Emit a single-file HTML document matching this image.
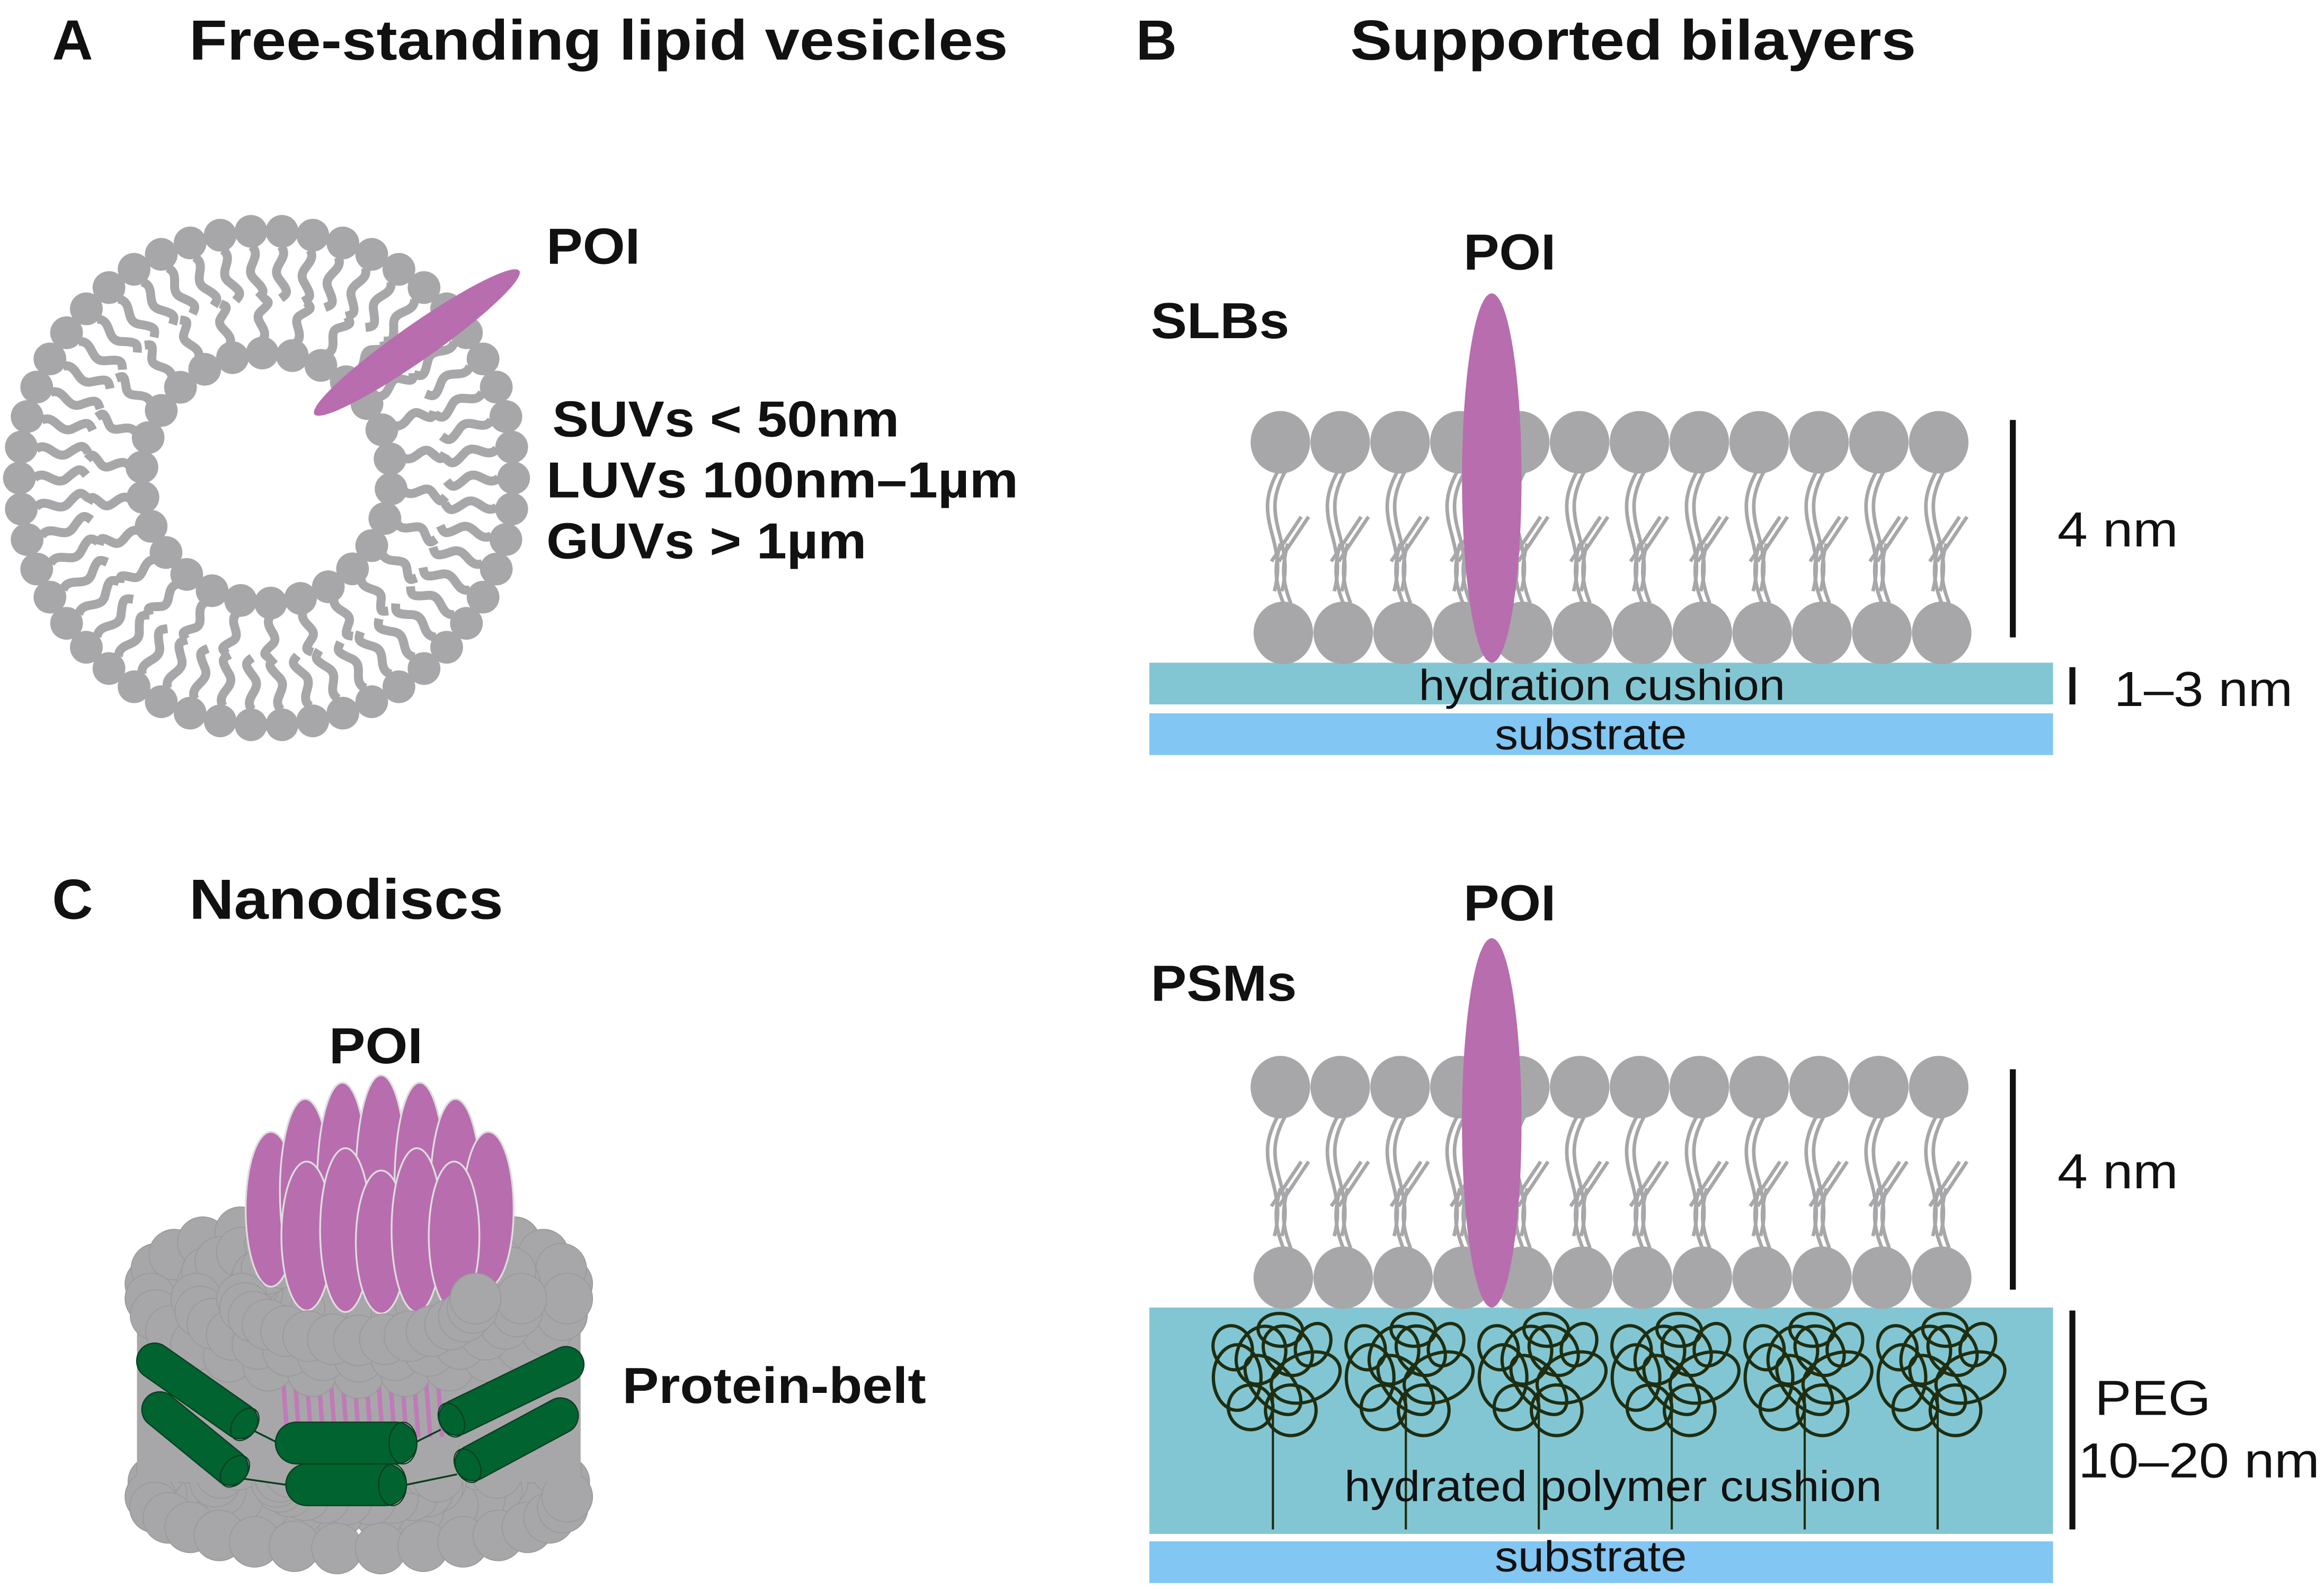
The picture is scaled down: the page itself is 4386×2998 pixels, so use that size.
<!DOCTYPE html>
<html><head><meta charset="utf-8">
<style>
html,body{margin:0;padding:0;background:#fff;}
svg{display:block;}
.b{font-family:"Liberation Sans",Arial,sans-serif;font-weight:bold;fill:#111;}
.n{font-family:"Liberation Sans",Arial,sans-serif;fill:#111;}
</style></head>
<body>
<svg id="s" xmlns="http://www.w3.org/2000/svg" width="4386" height="2998" viewBox="0 0 1561 1067">
<rect width="1561" height="1067" fill="#fff"/>
<g id="ves"></g>
<ellipse cx="280" cy="230" rx="84" ry="12" transform="rotate(-35 280 230)" fill="#b86daf"/>

<rect x="772" y="445" width="607" height="28" fill="#83c6d3"/>
<rect x="772" y="479" width="607" height="28" fill="#82c6f3"/>
<g id="slb"></g>
<ellipse cx="1002" cy="321" rx="20" ry="124" fill="#b86daf"/>
<rect x="1350" y="282" width="4" height="146" fill="#111"/>
<rect x="1390" y="448" width="4" height="25" fill="#111"/>

<rect x="772" y="878" width="607" height="152" fill="#83c6d3"/>
<rect x="772" y="1035" width="607" height="28" fill="#82c6f3"/>
<g id="psm"></g>
<ellipse cx="1002" cy="754" rx="20" ry="124" fill="#b86daf"/>
<g id="peg" fill="none" stroke="#1f2e10" stroke-width="2.2"></g>
<rect x="1350" y="718" width="4" height="148" fill="#111"/>
<rect x="1390" y="880" width="4" height="147" fill="#111"/>

<g id="nano"></g>

<text class="b" x="35" y="40" font-size="38">A</text>
<text class="b" x="127" y="40" font-size="38" textLength="550" lengthAdjust="spacingAndGlyphs">Free-standing lipid vesicles</text>
<text class="b" x="763" y="40" font-size="38">B</text>
<text class="b" x="907" y="40" font-size="38" textLength="380" lengthAdjust="spacingAndGlyphs">Supported bilayers</text>
<text class="b" x="35" y="617" font-size="38">C</text>
<text class="b" x="127" y="617" font-size="38" textLength="211" lengthAdjust="spacingAndGlyphs">Nanodiscs</text>
<text class="b" x="367" y="177" font-size="34" textLength="63" lengthAdjust="spacingAndGlyphs">POI</text>
<text class="b" x="371" y="293" font-size="34" textLength="233" lengthAdjust="spacingAndGlyphs">SUVs &lt; 50nm</text>
<text class="b" x="367" y="334" font-size="34" textLength="317" lengthAdjust="spacingAndGlyphs">LUVs 100nm–1µm</text>
<text class="b" x="367" y="375" font-size="34" textLength="215" lengthAdjust="spacingAndGlyphs">GUVs &gt; 1µm</text>
<text class="b" x="983" y="181" font-size="34" textLength="62" lengthAdjust="spacingAndGlyphs">POI</text>
<text class="b" x="773" y="227" font-size="34" textLength="93" lengthAdjust="spacingAndGlyphs">SLBs</text>
<text class="b" x="983" y="618" font-size="34" textLength="62" lengthAdjust="spacingAndGlyphs">POI</text>
<text class="b" x="773" y="672" font-size="34" textLength="98" lengthAdjust="spacingAndGlyphs">PSMs</text>
<text class="b" x="221" y="714" font-size="34" textLength="63" lengthAdjust="spacingAndGlyphs">POI</text>
<text class="b" x="418" y="942" font-size="34" textLength="204" lengthAdjust="spacingAndGlyphs">Protein-belt</text>
<text class="n" x="1382" y="367" font-size="33" textLength="81" lengthAdjust="spacingAndGlyphs">4 nm</text>
<text class="n" x="1420" y="474" font-size="33" textLength="120" lengthAdjust="spacingAndGlyphs">1–3 nm</text>
<text class="n" x="1382" y="798" font-size="33" textLength="81" lengthAdjust="spacingAndGlyphs">4 nm</text>
<text class="n" x="1407" y="950" font-size="33" textLength="78" lengthAdjust="spacingAndGlyphs">PEG</text>
<text class="n" x="1396" y="992" font-size="33" textLength="162" lengthAdjust="spacingAndGlyphs">10–20 nm</text>
<text class="n" x="953" y="470" font-size="29" textLength="246" lengthAdjust="spacingAndGlyphs">hydration cushion</text>
<text class="n" x="1004" y="503" font-size="29" textLength="129" lengthAdjust="spacingAndGlyphs">substrate</text>
<text class="n" x="903" y="1008" font-size="29" textLength="361" lengthAdjust="spacingAndGlyphs">hydrated polymer cushion</text>
<text class="n" x="1004" y="1055" font-size="29" textLength="129" lengthAdjust="spacingAndGlyphs">substrate</text>
</svg>
<script>
(function(){
var G='#a7a7a9';
function el(parent,tag,attrs){var e=document.createElementNS('http://www.w3.org/2000/svg',tag);for(var k in attrs)e.setAttribute(k,attrs[k]);parent.appendChild(e);return e;}
var v=document.getElementById('ves');
var cx=179,cy=321;
var N=50;
for(var i=0;i<N;i++){var a=360*i/N;var g=el(v,'g',{transform:'translate('+cx+','+cy+') rotate('+a+')'});
 el(g,'path',{d:'M156,0 C148,7 142,-7 134,0 S125,7 121,2',fill:'none',stroke:G,'stroke-width':6});
 el(g,'circle',{cx:166,cy:0,r:11,fill:G});}
var M=26;
for(var i=0;i<M;i++){var a=360*i/M+5;var g=el(v,'g',{transform:'translate('+cx+','+cy+') rotate('+a+')'});
 el(g,'path',{d:'M92,0 C100,7 106,-7 112,0 S118,6 121,2',fill:'none',stroke:G,'stroke-width':6});
 el(g,'circle',{cx:84,cy:0,r:11,fill:G});}
function bilayer(id,top){var b=document.getElementById(id);var bot=top+128;
 for(var i=0;i<12;i++){var x=860+i*40.2;
  var t='fill:none;stroke:'+G+';stroke-width:2.4';
  [0,5].forEach(function(o){
   el(b,'path',{d:'M'+(x-2+o)+','+(top+20)+' c-8,15 -8,25 -4,40 s6,25 2,40',style:t});
   el(b,'path',{d:'M'+(x+2+o)+','+(bot-20)+' c-6,-15 -6,-25 -2,-40',style:t});
   el(b,'path',{d:'M'+(x+14+o)+','+(top+50)+' l-20,30',style:t});
  });
  el(b,'ellipse',{cx:x,cy:top,rx:20,ry:21,fill:G});
  el(b,'ellipse',{cx:x+2,cy:bot,rx:20,ry:21,fill:G});
 }}
bilayer('slb',297);bilayer('psm',730);
var p=document.getElementById('peg');
var loops=[[-24,10,16,22],[-8,-5,16,20],[10,-8,18,15],[22,10,16,24],[-15,30,15,15],[12,32,17,17],[0,15,13,24],[-27,-10,13,15],[5,-22,15,11],[27,-12,11,15]];
for(var k=0;k<6;k++){var X=855+k*89.3,Y=915;
 loops.forEach(function(L,j){el(p,'ellipse',{cx:X+L[0],cy:Y+L[1],rx:L[2],ry:L[3],transform:'rotate('+(j*23)+' '+(X+L[0])+' '+(Y+L[1])+')'});});
 el(p,'line',{x1:X,y1:Y+20,x2:X,y2:1027,'stroke-width':1.5});}
var n=document.getElementById('nano');
function C(x,y){el(n,'circle',{cx:x,cy:y,r:17,fill:G,stroke:'#999','stroke-width':0.6});}
// bottom layer
for(var rr=0;rr<3;rr++){var f=1-rr*0.3;for(var i=0;i<22;i++){var a=Math.PI*2*i/22;C(241+138*f*Math.cos(a),995+30*f*Math.sin(a));}}
for(var i=0;i<16;i++){var a=Math.PI*i/15;C(241-140*Math.cos(a),1005+35*Math.sin(a));}
el(n,'rect',{x:92,y:880,width:298,height:115,fill:'#a7a7a9'});
for(var i=0;i<14;i++){el(n,'path',{d:'M'+(190+i*8)+',925 l3,40',stroke:'#c07ab8','stroke-width':3});}
// top layer back
for(var rr=0;rr<3;rr++){var f=1-rr*0.25;for(var i=0;i<26;i++){var a=Math.PI*2*i/26;C(241+140*f*Math.cos(a),862+42*f*Math.sin(a));}}
// petals
var back=[[182,812,17,52],[205,800,17,62],[230,795,17,68],[256,792,17,70],[282,795,17,68],[306,800,17,62],[328,812,17,52]];
var front=[[206,830,17,50],[232,826,17,55],[256,834,17,48],[280,826,17,55],[305,830,17,50]];
back.concat(front).forEach(function(q){el(n,'ellipse',{cx:q[0],cy:q[1],rx:q[2],ry:q[3],fill:'#b86daf',stroke:'#ddd','stroke-width':1.2});});
// top layer front
for(var rr=0;rr<3;rr++){var f=1-rr*0.22;for(var i=0;i<15;i++){var a=Math.PI*i/14;C(241-140*f*Math.cos(a),872+50*f*Math.sin(a));}}
function cyl(x1,y1,x2,y2,w){var dx=x2-x1,dy=y2-y1,L=Math.sqrt(dx*dx+dy*dy),a=Math.atan2(dy,dx)*180/Math.PI;
 var g=el(n,'g',{transform:'translate('+x1+','+y1+') rotate('+a+')'});
 el(g,'rect',{x:0,y:-w/2,width:L,height:w,rx:w/2,fill:'#006330',stroke:'#0a3d1e','stroke-width':0.8});
 el(g,'ellipse',{cx:L-w/3,cy:0,rx:w/3,ry:w/2,fill:'none',stroke:'#0a3d1e','stroke-width':0.8});}
el(n,'path',{d:'M164,993 L192,997 M273,997 L307,990 M171,961 L185,968 M280,968 L296,960',stroke:'#0a3d1e','stroke-width':1.2,fill:'none'});
cyl(94,907,171,961,24);cyl(98,939,164,993,24);
cyl(185,969,280,969,28);cyl(192,997,273,997,28);
cyl(391,911,296,957,24);cyl(387,945,307,988,24);
})();
</script>
</body></html>
